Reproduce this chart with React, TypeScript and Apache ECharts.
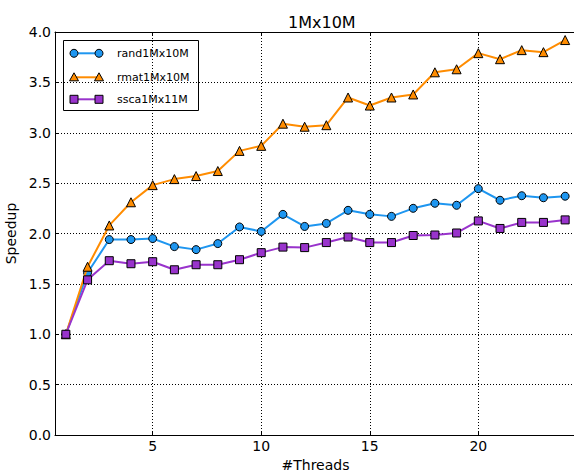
import React, { useEffect, useRef } from "react";
import * as echarts from "echarts";

const threads = [1, 2, 3, 4, 5, 6, 7, 8, 9, 10, 11, 12, 13, 14, 15, 16, 17, 18, 19, 20, 21, 22, 23, 24];
const rand1Mx10M = [1.0, 1.61, 1.94, 1.94, 1.95, 1.87, 1.84, 1.9, 2.065, 2.02, 2.19, 2.07, 2.1, 2.23, 2.19, 2.17, 2.25, 2.3, 2.28, 2.445, 2.33, 2.375, 2.355, 2.37];
const rmat1Mx10M = [1.0, 1.67, 2.08, 2.31, 2.48, 2.54, 2.57, 2.62, 2.82, 2.87, 3.09, 3.06, 3.075, 3.35, 3.27, 3.35, 3.38, 3.6, 3.63, 3.79, 3.73, 3.82, 3.8, 3.92];
const ssca1Mx11M = [1.0, 1.54, 1.73, 1.7, 1.72, 1.64, 1.69, 1.69, 1.74, 1.81, 1.865, 1.86, 1.91, 1.965, 1.91, 1.91, 1.98, 1.985, 2.005, 2.125, 2.05, 2.11, 2.11, 2.135];
const seriesNames = ["rand1Mx10M", "rmat1Mx10M", "ssca1Mx11M"];
const seriesValues = [rand1Mx10M, rmat1Mx10M, ssca1Mx11M];
const seriesColors = ["#1e96f0", "#ff8c00", "#9933cc"];
const seriesSymbols = ["circle", "triangle", "rect"];
const xTicks = [5, 10, 15, 20];
const title = "1Mx10M";
const xName = "#Threads";
const yName = "Speedup";

const FONT = "DejaVu Sans";

export default function App() {
  const ref = useRef<HTMLDivElement>(null);
  useEffect(() => {
    if (!ref.current) return;
    const chart = echarts.init(ref.current, null, { renderer: "svg" });

    const legendX = 63.5;
    const legendY = 40.5;
    const rowYs = [53.3, 77.3, 99.3];
    const legendChildren: any[] = [
      {
        type: "rect",
        id: "lg-box",
        shape: { x: legendX, y: legendY, width: 135, height: 70 },
        style: { fill: "#fff", stroke: "#000", lineWidth: 1 },
      },
    ];
    seriesNames.forEach((name, i) => {
      const y = rowYs[i];
      const c = seriesColors[i];
      legendChildren.push({
        type: "line",
        id: `lg-line-${i}`,
        shape: { x1: 74, y1: y, x2: 99, y2: y },
        style: { stroke: c, lineWidth: 2 },
      });
      [74, 99].forEach((mx, k) => {
        const id = `lg-m-${i}-${k}`;
        if (seriesSymbols[i] === "circle") {
          legendChildren.push({ type: "circle", id, shape: { cx: mx, cy: y, r: 4 }, style: { fill: c, stroke: "#000", lineWidth: 1 } });
        } else if (seriesSymbols[i] === "triangle") {
          legendChildren.push({
            type: "polygon",
            id,
            shape: { points: [[mx, y - 4.5], [mx + 4.5, y + 3.5], [mx - 4.5, y + 3.5]] },
            style: { fill: c, stroke: "#000", lineWidth: 1 },
          });
        } else {
          legendChildren.push({ type: "rect", id, shape: { x: mx - 4, y: y - 4, width: 8, height: 8 }, style: { fill: c, stroke: "#000", lineWidth: 1 } });
        }
      });
      legendChildren.push({
        type: "text",
        id: `lg-text-${i}`,
        x: 117,
        y: y,
        style: { text: name, fill: "#000", fontSize: 11, fontFamily: FONT, verticalAlign: "middle", align: "left" },
      });
    });

    const series: any[] = seriesNames.map((name, i) => ({
      name,
      type: "line",
      data: threads.map((t, j) => [t, seriesValues[i][j]]),
      symbol: seriesSymbols[i],
      symbolSize: seriesSymbols[i] === "triangle" ? 9 : 8,
      lineStyle: { color: seriesColors[i], width: 2 },
      itemStyle: { color: seriesColors[i], borderColor: "#000", borderWidth: 1 },
      z: 3 + i,
      clip: false,
    }));
    series[0].markLine = {
      silent: true,
      symbol: "none",
      label: { show: false },
      lineStyle: { color: "#000", width: 1, type: [1, 2] },
      data: xTicks.map((v) => ({ xAxis: v })),
      z: 1,
    };

    chart.setOption({
      animation: false,
      backgroundColor: "#fff",
      title: {
        text: title,
        left: 283,
        top: 9,
        textStyle: { fontFamily: FONT, fontSize: 16, fontWeight: "normal", color: "#000" },
      },
      grid: { left: 55, right: -2, top: 32, bottom: 37, containLabel: false, outerBoundsMode: "none" },
      xAxis: [
        {
          type: "value",
          min: 0.5,
          max: 24.5,
          name: xName,
          nameLocation: "middle",
          nameGap: 19,
          nameTextStyle: { fontFamily: FONT, fontSize: 14, color: "#000", verticalAlign: "top" },
          axisLine: { show: true, lineStyle: { color: "#000", width: 1 } },
          axisTick: { show: true, inside: true, length: 4, customValues: xTicks, lineStyle: { color: "#000" } },
          axisLabel: { customValues: xTicks, margin: 4, fontFamily: FONT, fontSize: 14, color: "#000" },
          splitLine: { show: false },
        },
        {
          type: "value",
          position: "top",
          min: 0.5,
          max: 24.5,
          axisLine: { show: true, lineStyle: { color: "#000", width: 1 } },
          axisTick: { show: true, inside: true, length: 4, customValues: xTicks, lineStyle: { color: "#000" } },
          axisLabel: { show: false },
          splitLine: { show: false },
        },
      ],
      yAxis: {
        type: "value",
        min: 0,
        max: 4,
        interval: 0.5,
        name: yName,
        nameLocation: "middle",
        nameGap: 30,
        nameTextStyle: { fontFamily: FONT, fontSize: 14, color: "#000" },
        axisLine: { show: true, lineStyle: { color: "#000", width: 1 } },
        axisTick: { show: true, inside: true, length: 4, lineStyle: { color: "#000" } },
        axisLabel: { margin: 4, fontFamily: FONT, fontSize: 14, color: "#000", formatter: (v: number) => v.toFixed(1) },
        splitLine: { show: true, lineStyle: { color: "#000", width: 1, type: [1, 2] } },
      },
      series,
      graphic: [{ type: "group", id: "legend-group", children: legendChildren, z: 100 }],
    });
    return () => chart.dispose();
  }, []);
  return <div ref={ref} style={{ position: "fixed", left: 0, top: 0, width: 574, height: 472 }} />;
}
